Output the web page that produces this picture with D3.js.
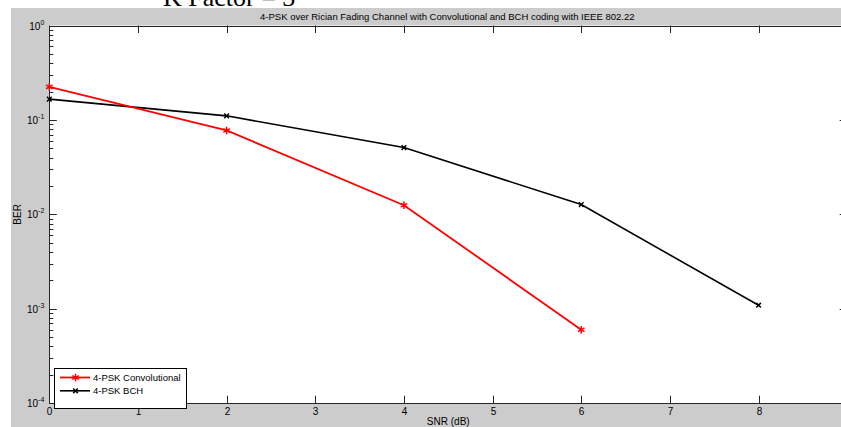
<!DOCTYPE html>
<html><head><meta charset="utf-8">
<script src="https://cdn.jsdelivr.net/npm/d3@7"></script>
<style>html,body{margin:0;padding:0;background:#fff;}svg{display:block;}</style>
</head><body>
<svg id="c" width="841" height="427"></svg>
<script>
const snr = [0, 2, 4, 6, 8];
const berConv = [0.224, 0.0774, 0.0125, 0.0006];
const berBCH = [0.166, 0.1105, 0.051, 0.0127, 0.00109];
const xTicks = [0, 1, 2, 3, 4, 5, 6, 7, 8];
const yTicks = [1, 0.1, 0.01, 0.001, 0.0001];
const yTickExp = ["0", "-1", "-2", "-3", "-4"];
const seriesNames = ["4-PSK Convolutional", "4-PSK BCH"];
const titleText = "4-PSK over Rician Fading Channel with Convolutional and BCH coding with IEEE 802.22";
const supTitle = "K Factor = 3";

const svg = d3.select("#c");
const W = 841, H = 427;
const L = 49.3, R = 847.2, T = 25.5, B = 403.2;
const x = d3.scaleLinear().domain([0, 9]).range([L, R]);
const y = d3.scaleLog().domain([1e-4, 1]).range([B, T]);

// figure background
svg.append("rect").attr("x", 11).attr("y", 8).attr("width", W - 11).attr("height", H - 8).attr("fill", "#cccccc");
// supertitle (cropped)
svg.append("text").attr("x", 163).attr("y", 6).attr("font-family", "Liberation Serif, Times New Roman, serif")
  .attr("font-size", 26).attr("fill", "#000").text(supTitle);
// axes background
svg.append("rect").attr("x", L).attr("y", T).attr("width", R - L).attr("height", B - T).attr("fill", "#fff");

const g = svg.append("g");
const axColor = "#262626";
// minor + major y ticks
const minor = [];
for (let e = -4; e < 0; e++) for (let m = 2; m <= 9; m++) minor.push(m * Math.pow(10, e));
minor.forEach(v => {
  g.append("line").attr("x1", L).attr("x2", L + 4).attr("y1", Math.round(y(v)) + 0.5).attr("y2", Math.round(y(v)) + 0.5).attr("stroke", axColor);
  g.append("line").attr("x1", R).attr("x2", R - 4).attr("y1", Math.round(y(v)) + 0.5).attr("y2", Math.round(y(v)) + 0.5).attr("stroke", axColor);
});
yTicks.forEach((v, i) => {
  const yy = Math.round(y(v)) + 0.5;
  g.append("line").attr("x1", L).attr("x2", L + 7.5).attr("y1", yy).attr("y2", yy).attr("stroke", axColor);
  g.append("line").attr("x1", R).attr("x2", R - 7.5).attr("y1", yy).attr("y2", yy).attr("stroke", axColor);
  const t = g.append("text").attr("x", L - 5).attr("y", yy + 3.5).attr("text-anchor", "end")
    .attr("font-family", "Liberation Sans, Arial, sans-serif").attr("font-size", 10).attr("fill", "#000");
  t.append("tspan").text("10");
  t.append("tspan").attr("dy", -5).attr("font-size", 7).text(yTickExp[i]);
});
xTicks.forEach(v => {
  const xx = Math.round(x(v)) + 0.5;
  g.append("line").attr("x1", xx).attr("x2", xx).attr("y1", B).attr("y2", B - 7.5).attr("stroke", axColor);
  g.append("line").attr("x1", xx).attr("x2", xx).attr("y1", T).attr("y2", T + 7.5).attr("stroke", axColor);
  g.append("text").attr("x", xx).attr("y", B + 12).attr("text-anchor", "middle")
    .attr("font-family", "Liberation Sans, Arial, sans-serif").attr("font-size", 10).attr("fill", "#000").text(v);
});
// axis box
g.append("rect").attr("x", Math.round(L) + 0.5).attr("y", Math.round(T) + 0.5).attr("width", R - L).attr("height", Math.round(B) - Math.round(T))
  .attr("fill", "none").attr("stroke", axColor);

// title, labels
svg.append("text").attr("x", (L + R) / 2 - 1).attr("y", 19.5).attr("text-anchor", "middle")
  .attr("font-family", "Liberation Sans, Arial, sans-serif").attr("font-size", 9.5).attr("fill", "#000").text(titleText);
svg.append("text").attr("x", (L + R) / 2).attr("y", 425).attr("text-anchor", "middle")
  .attr("font-family", "Liberation Sans, Arial, sans-serif").attr("font-size", 10).attr("fill", "#000").text("SNR (dB)");
svg.append("text").attr("transform", `translate(21,${(T + B) / 2}) rotate(-90)`).attr("text-anchor", "middle")
  .attr("font-family", "Liberation Sans, Arial, sans-serif").attr("font-size", 10).attr("fill", "#000").text("BER");

// series
const line = d3.line().x(d => x(d[0])).y(d => y(d[1]));
const convData = berConv.map((v, i) => [snr[i], v]);
const bchData = berBCH.map((v, i) => [snr[i], v]);
const plot = svg.append("g");
plot.append("path").attr("d", line(bchData)).attr("fill", "none").attr("stroke", "#000").attr("stroke-width", 1.6);
plot.append("path").attr("d", line(convData)).attr("fill", "none").attr("stroke", "#ff0000").attr("stroke-width", 1.8);
const symConv = d3.symbol().type(d3.symbolAsterisk).size(40);
const symBCH = d3.symbol().type(d3.symbolTimes).size(16);
plot.selectAll(".mb").data(bchData).enter().append("path").attr("transform", d => `translate(${x(d[0])},${y(d[1])})`)
  .attr("d", symBCH).attr("fill", "none").attr("stroke", "#000").attr("stroke-width", 1.5);
plot.selectAll(".mc").data(convData).enter().append("path").attr("transform", d => `translate(${x(d[0])},${y(d[1])})`)
  .attr("d", symConv).attr("fill", "none").attr("stroke", "#ff0000").attr("stroke-width", 1.5);

// legend
const lg = svg.append("g");
lg.append("rect").attr("x", 54.5).attr("y", 368.5).attr("width", 132).attr("height", 40).attr("fill", "#fff").attr("stroke", "#000");
const colors = ["#ff0000", "#000"];
const syms = [symConv, symBCH];
seriesNames.forEach((n, i) => {
  const yy = 377.5 + i * 13.3;
  lg.append("line").attr("x1", 60).attr("x2", 90).attr("y1", yy).attr("y2", yy).attr("stroke", colors[i]).attr("stroke-width", i === 0 ? 1.8 : 1.6);
  lg.append("path").attr("transform", `translate(75.5,${yy})`).attr("d", syms[i]).attr("fill", "none").attr("stroke", colors[i]).attr("stroke-width", 1.5);
  lg.append("text").attr("x", 93).attr("y", yy + 3.5).attr("font-family", "Liberation Sans, Arial, sans-serif")
    .attr("font-size", 9.5).attr("fill", "#000").text(n);
});
</script>
</body></html>
